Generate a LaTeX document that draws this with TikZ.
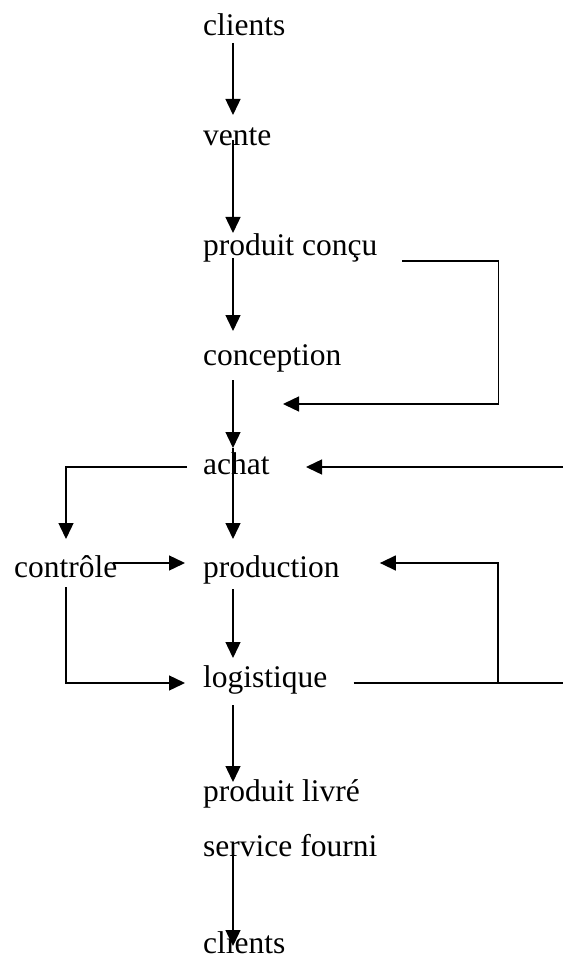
\documentclass[tikz,border=0pt]{standalone}
\usepackage{fontspec}
\setmainfont{Liberation Serif}
\usetikzlibrary{arrows.meta}
\tikzset{
	lbl/.style={anchor=base west, inner sep=0pt, font=\fontsize{31.5}{38}\selectfont},
	conn/.style={line width=1.4pt},
	arr/.style={conn, -{Triangle[length=16pt,width=15pt]}},
}
\begin{document}
\begin{tikzpicture}[x=1pt, y=-1pt]
	\useasboundingbox (0,0) rectangle (563,965);
	\node[lbl] (cliIn) at (203,36) {clients};
	\node[lbl] (vente) at (203,146) {vente};
	\node[lbl] (prodC) at (203,256) {produit conçu};
	\node[lbl] (concep) at (203,365) {conception};
	\node[lbl] (achat) at (203,474) {achat};
	\node[lbl] (ctrl) at (14,577) {contrôle};
	\node[lbl] (prod) at (203,577) {production};
	\node[lbl] (logi) at (203,687) {logistique};
	\node[lbl] (prodL) at (203,801) {produit livré};
	\node[lbl] (serv) at (203,856) {service fourni};
	\node[lbl] (cliOut) at (203,953) {clients};
	\coordinate (edgeA) at (563,467);
	\coordinate (edgeL) at (563,683);
	\coordinate (loopL) at (498,683);
	\draw[arr] ([shift={(30,7)}]cliIn.base west) -- ([shift={(30,-31)}]vente.base west);
	\draw[arr] ([shift={(30,-6)}]vente.base west) -- ([shift={(30,-23)}]prodC.base west);
	\draw[arr] ([shift={(30,2)}]prodC.base west) -- ([shift={(30,-34)}]concep.base west);
	\draw[arr] ([shift={(30,15)}]concep.base west) -- ([shift={(30,-26)}]achat.base west);
	\draw[arr] ([shift={(30,-26)}]achat.base west) -- ([shift={(30,-38)}]prod.base west);
	\draw[arr] ([shift={(30,12)}]prod.base west) -- ([shift={(30,-29)}]logi.base west);
	\draw[arr] ([shift={(30,18)}]logi.base west) -- ([shift={(30,-19)}]prodL.base west);
	\draw[arr] ([shift={(30,-11)}]serv.base west) -- ([shift={(30,-7)}]cliOut.base west);
	\draw[arr] ([shift={(25,5)}]prodC.base east) -- ++(96,0) |- ([shift={(80,39)}]concep.base west);
	\draw[arr] ([shift={(-16,-7)}]achat.base west) -| ([shift={(52,-38)}]ctrl.base west);
	\draw[arr] (edgeA) -- ([shift={(103,-7)}]achat.base west);
	\draw[arr] ([shift={(99,-14)}]ctrl.base west) -- ([shift={(-18,-14)}]prod.base west);
	\draw[arr] ([shift={(52,10)}]ctrl.base west) |- ([shift={(-18,-4)}]logi.base west);
	\draw[conn] ([shift={(26,-4)}]logi.base east) -- (edgeL);
	\draw[arr] (loopL) |- ([shift={(40,-14)}]prod.base east);
\end{tikzpicture}
\end{document}
